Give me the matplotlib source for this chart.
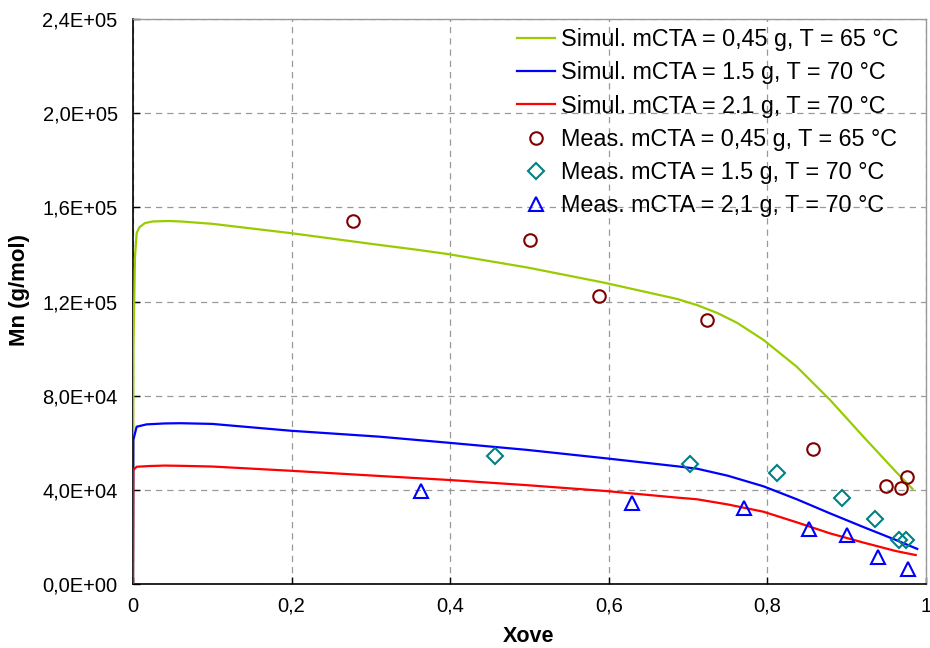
import matplotlib
matplotlib.use("Agg")
import matplotlib.pyplot as plt
from matplotlib.ticker import FuncFormatter, MultipleLocator

plt.rcParams['font.family'] = ['Liberation Sans', 'DejaVu Sans']

# Simulated curves
sim1_x = [0.0, 0.0005, 0.0025, 0.0046, 0.008, 0.015, 0.025, 0.045, 0.06, 0.1, 0.2, 0.3, 0.36, 0.398, 0.498, 0.594, 0.686, 0.711, 0.737, 0.762, 0.795, 0.837, 0.879, 0.921, 0.962, 0.983]
sim1_y = [0, 100000, 139000, 149000, 151500, 153300, 154000, 154200, 154000, 153000, 149000, 144500, 141900, 140100, 134400, 128000, 121100, 118500, 115100, 110900, 103700, 92300, 78200, 62600, 47700, 40400]

sim2_x = [0.0, 0.0004, 0.0046, 0.017, 0.04, 0.06, 0.1, 0.199, 0.31, 0.398, 0.496, 0.596, 0.686, 0.711, 0.75, 0.795, 0.837, 0.879, 0.921, 0.962, 0.989]
sim2_y = [0, 61200, 66800, 67800, 68200, 68300, 68000, 65100, 62600, 60000, 57000, 53400, 50000, 49000, 46000, 41500, 36000, 30000, 24200, 18700, 14900]

sim3_x = [0.0, 0.0003, 0.0046, 0.02, 0.04, 0.06, 0.1, 0.199, 0.31, 0.398, 0.496, 0.596, 0.686, 0.711, 0.75, 0.795, 0.837, 0.879, 0.921, 0.962, 0.987]
sim3_y = [0, 48400, 49800, 50100, 50300, 50200, 49900, 48100, 45900, 44200, 42000, 39500, 36700, 36000, 33800, 30700, 26200, 21500, 17600, 14000, 12300]

# Measured data
meas1_x = [0.277, 0.501, 0.588, 0.724, 0.857, 0.949, 0.969, 0.976]
meas1_y = [154200, 146100, 122300, 112100, 57400, 41600, 40700, 45600]

meas2_x = [0.457, 0.702, 0.812, 0.894, 0.936, 0.966, 0.975]
meas2_y = [54400, 51000, 47300, 36500, 27500, 18700, 18700]

meas3_x = [0.363, 0.629, 0.771, 0.852, 0.900, 0.940, 0.977]
meas3_y = [39500, 34550, 32150, 23250, 20800, 11350, 6250]

labels = [
    "Simul. mCTA = 0,45 g, T = 65 °C",
    "Simul. mCTA = 1.5 g, T = 70 °C",
    "Simul. mCTA = 2.1 g, T = 70 °C",
    "Meas. mCTA = 0,45 g, T = 65 °C",
    "Meas. mCTA = 1.5 g, T = 70 °C",
    "Meas. mCTA = 2,1 g, T = 70 °C",
]

W, H = 930, 648
L, R, T, B = 133, 926, 19, 584

fig = plt.figure(figsize=(W/100, H/100), dpi=100)
ax = fig.add_axes([L/W, 1-B/H, (R-L)/W, (B-T)/H])

ax.plot(sim1_x, sim1_y, color='#99CC00', lw=1.6, label=labels[0], zorder=3)
ax.plot(sim2_x, sim2_y, color='#0000FF', lw=1.6, label=labels[1], zorder=3)
ax.plot(sim3_x, sim3_y, color='#FF0000', lw=1.6, label=labels[2], zorder=3)
ax.plot(meas1_x, meas1_y, ls='none', marker='o', ms=9, mfc='none', mec='#800000', mew=1.5, label=labels[3], zorder=4)
ax.plot(meas2_x, meas2_y, ls='none', marker='D', ms=8, mfc='none', mec='#008080', mew=1.5, label=labels[4], zorder=4)
ax.plot(meas3_x, meas3_y, ls='none', marker='^', ms=10.5, mfc='none', mec='#0000FF', mew=1.5, label=labels[5], zorder=4)

ax.set_xlim(0, 1)
ax.set_ylim(0, 240000)
ax.xaxis.set_major_locator(MultipleLocator(0.2))
ax.yaxis.set_major_locator(MultipleLocator(40000))

def xfmt(v, pos):
    if abs(v) < 1e-9:
        return "0"
    if abs(v - 1) < 1e-9:
        return "1"
    return ("%.1f" % v).replace('.', ',')

def yfmt(v, pos):
    s = "%.1E" % v
    return s.replace('.', ',')

ax.xaxis.set_major_formatter(FuncFormatter(xfmt))
ax.yaxis.set_major_formatter(FuncFormatter(yfmt))

ax.grid(True, color='#999999', ls=(0, (5, 4)), lw=0.9)
ax.set_axisbelow(True)
ax.tick_params(direction='in', length=5, width=1, labelsize=14.5, colors='black')
ax.tick_params(axis='y', pad=11)
ax.tick_params(axis='x', pad=9)
for side in ['left', 'bottom']:
    ax.spines[side].set_color('black')
    ax.spines[side].set_linewidth(1.2)
for side in ['top', 'right']:
    ax.spines[side].set_color('#999999')
    ax.spines[side].set_linewidth(1.0)

ax.set_xlabel("Xove", fontsize=15.5, fontweight='bold', va='center')
ax.xaxis.set_label_coords((529-L)/(R-L), (B-636)/(B-T))
ax.set_ylabel("Mn (g/mol)", fontsize=16, fontweight='bold', va='center')
ax.yaxis.set_label_coords((20-L)/(R-L), (B-290)/(B-T))

leg = ax.legend(loc='upper right', bbox_to_anchor=(898/W, 1-28/H), bbox_transform=fig.transFigure,
                frameon=False, fontsize=16.8, handlelength=1.63, handletextpad=0.26,
                labelspacing=0.44, borderpad=0.0, borderaxespad=0.0)

fig.savefig("out.png", dpi=100)
